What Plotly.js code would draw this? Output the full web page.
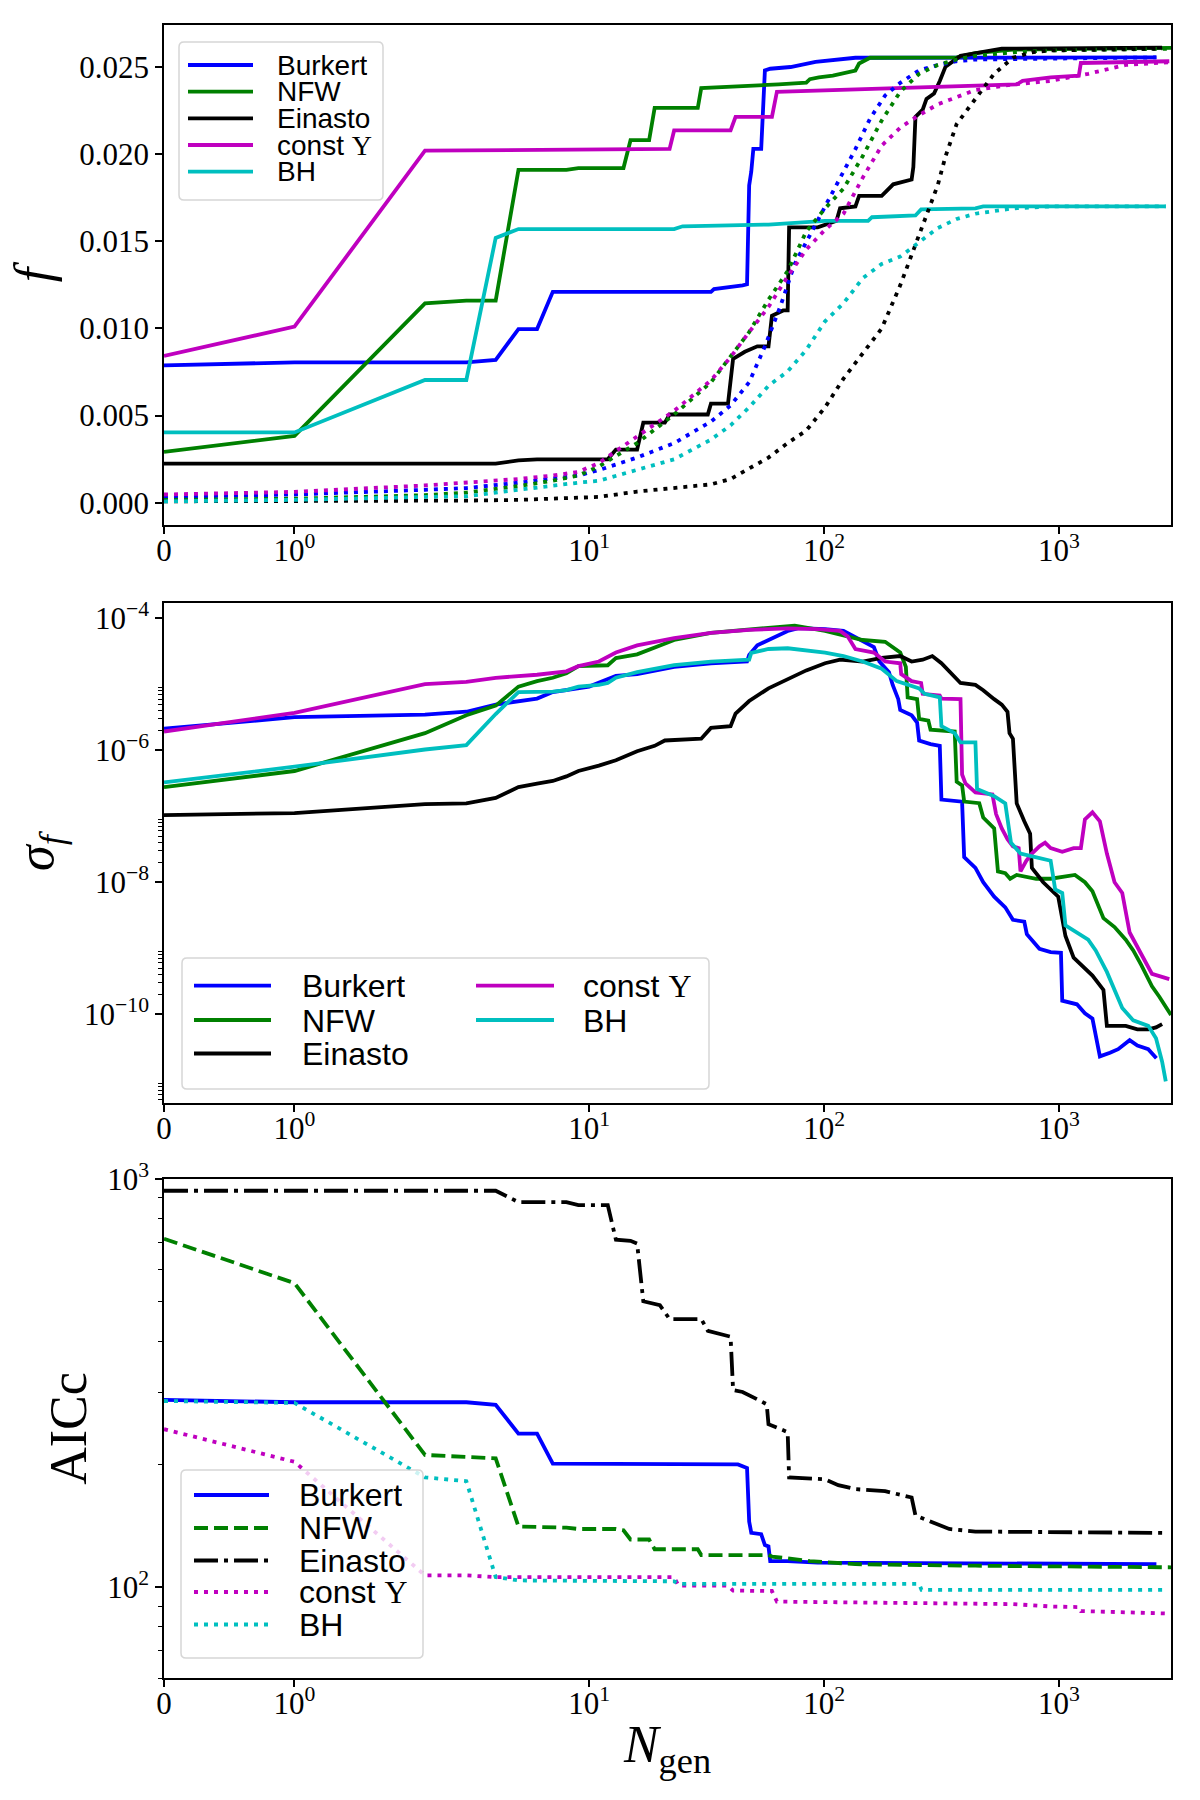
<!DOCTYPE html>
<html>
<head>
<meta charset="utf-8">
<script src="https://cdn.plot.ly/plotly-3.0.1.min.js"></script>
<style>body{margin:0;background:#fff}#chart{width:1200px;height:1800px}</style>
</head>
<body>
<div id="chart"></div>
<script>
// ---------------- DATA ----------------
const modelNames = ['Burkert', 'NFW', 'Einasto', 'const Υ', 'BH'];

// Panel 1: best fitness f (solid)
const gen_f_burkert = [0,1,2,3,4,5,6,7,33,34,45,47,48,49,50,54,56,59,72,84,92,136,2600];
const f_burkert = [0.00788,0.00805,0.00805,0.00805,0.00819,0.00996,0.00996,0.0121,0.0121,0.01226,0.01247,0.01253,0.0182,0.0190,0.0203,0.0203,0.0248,0.0249,0.0250,0.0252,0.0253,0.02553,0.02555];
const gen_f_nfw = [0,1,2,3,4,5,8,9,14,15,18,19,29,30,64,84,87,95,109,136,141,157,367,441,637,3000];
const f_nfw = [0.00292,0.00383,0.01144,0.0116,0.0116,0.0191,0.0191,0.0192,0.0192,0.0208,0.0208,0.02265,0.02265,0.02379,0.0240,0.0241,0.0243,0.0244,0.0245,0.0248,0.0252,0.02553,0.02555,0.0258,0.026,0.0261];
const gen_f_einasto = [0,4,5,6,12,13,16,17,21,22,32,33,39,41,46,52,58,60,67,70,71,94,113,117,136,141,176,197,236,240,245,263,273,294,311,329,381,441,530,571,2750];
const f_einasto = [0.00224,0.00224,0.00243,0.00249,0.00249,0.00305,0.00305,0.00459,0.00459,0.00506,0.00506,0.00568,0.00568,0.00825,0.00866,0.00897,0.00897,0.01072,0.01103,0.01103,0.0158,0.0158,0.01617,0.01689,0.017,0.01761,0.01761,0.01827,0.01854,0.01926,0.02214,0.02255,0.02317,0.02348,0.0242,0.02502,0.02564,0.0258,0.02595,0.02605,0.02611];
const gen_f_const = [0,1,2,22,23,40,42,60,63,117,211,441,661,700,922,1215,1240,2950];
const f_const = [0.00842,0.0101,0.0202,0.0203,0.02136,0.02136,0.02214,0.02214,0.02358,0.02368,0.02379,0.02389,0.0240,0.0242,0.0244,0.0245,0.02523,0.02533];
const gen_f_bh = [0,1,2,3,4,5,23,25,58,101,154,160,245,259,441,476,2850];
const f_bh = [0.00403,0.00403,0.00704,0.00704,0.01519,0.0157,0.0157,0.01586,0.01596,0.01617,0.01617,0.01638,0.01648,0.01683,0.01689,0.017,0.017];

// Panel 1: population f (dotted)
const gen_fm_burkert = [0,1,2,3,5,7,9,11,16,23,33,40,48,56,65,75,87,101,117,136,157,182,211,254,305,367,441,2600];
const fm_burkert = [0.00033,0.00047,0.00074,0.00084,0.00115,0.00136,0.00156,0.00187,0.00259,0.00342,0.00465,0.00558,0.00691,0.00897,0.01123,0.0137,0.01535,0.017,0.01864,0.02029,0.02204,0.02337,0.02409,0.02481,0.02512,0.02533,0.02543,0.02555];
const gen_fm_nfw = [0,1,2,3,5,7,9,11,16,23,33,40,48,58,70,84,101,121,146,176,211,254,305,367,441,637,922,3000];
const fm_nfw = [0.00016,0.00023,0.00043,0.00058,0.00095,0.00126,0.00156,0.00208,0.00342,0.00506,0.00691,0.00835,0.00979,0.01165,0.01329,0.01556,0.01689,0.01802,0.01988,0.02193,0.02358,0.02461,0.02512,0.02543,0.02564,0.02584,0.02595,0.02605];
const gen_fm_einasto = [0,1,2,3,5,7,9,11,16,23,33,40,48,58,70,84,101,121,146,176,211,254,284,305,329,367,441,530,637,767,922,2750];
const fm_einasto = [0.00008,0.00008,0.00012,0.00012,0.00016,0.00023,0.00028,0.00033,0.00064,0.00084,0.00105,0.00136,0.00198,0.00259,0.00342,0.00414,0.00547,0.00712,0.00856,0.01,0.01247,0.01535,0.017,0.01823,0.01988,0.02173,0.02317,0.02461,0.02553,0.02584,0.02595,0.02605];
const gen_fm_const = [0,1,2,3,5,7,9,11,16,23,33,40,48,58,70,84,101,121,146,176,211,254,305,367,441,637,922,1332,1925,2950];
const fm_const = [0.00047,0.00062,0.00099,0.00115,0.00136,0.00156,0.00177,0.00228,0.00383,0.00527,0.00702,0.00835,0.00979,0.01123,0.01298,0.01453,0.01566,0.01658,0.01864,0.02049,0.02152,0.02224,0.02286,0.02327,0.02368,0.0240,0.0242,0.02461,0.02512,0.02527];
const gen_fm_bh = [0,1,2,3,5,7,9,11,16,23,33,40,48,58,70,84,101,121,146,176,211,254,305,367,441,637,922,2850];
const fm_bh = [0.00008,0.00016,0.00033,0.00037,0.00074,0.00099,0.00115,0.00126,0.00187,0.00249,0.00362,0.00444,0.00547,0.00671,0.00753,0.00877,0.01041,0.01144,0.01288,0.0137,0.01412,0.01494,0.01576,0.01628,0.01658,0.01689,0.017,0.017];

// Panel 2: sigma_f
const gen_s_burkert = [0,1,2,3,4,5,6,7,10,13,16,23,33,47,48,52,70,78,101,121,146,163,172,189,196,207,211,236,249,254,284,311,316,387,395,441,476,530,591,637,712,730,826,922,1020,1033,1193,1290,1389,1494,1650,1787,2000,2158,2400,2600];
const s_burkert = [2.13e-6,3.18e-6,3.48e-6,3.85e-6,4.94e-6,5.6e-6,6.1e-6,7.66e-6,9.25e-6,1.35e-5,1.43e-5,1.84e-5,2.09e-5,2.22e-5,2.8e-5,3.91e-5,6.46e-5,7.13e-5,6.9e-5,6.5e-5,4.43e-5,3.67e-5,2.22e-5,1.53e-5,9.8e-6,5.97e-6,4.09e-6,3.4e-6,2.64e-6,1.41e-6,1.24e-6,1.17e-6,1.79e-7,1.67e-7,2.4e-8,1.65e-8,1e-8,6.05e-9,4.16e-9,2.69e-9,2.52e-9,1.63e-9,9.8e-10,8.7e-10,8.5e-10,1.6e-10,1.41e-10,1.03e-10,8.55e-11,2.29e-11,2.6e-11,2.95e-11,4.03e-11,3.34e-11,2.95e-11,2.15e-11];
const gen_s_nfw = [0,1,2,3,4,5,6,7,8,9,12,13,16,23,33,48,58,75,101,126,146,182,211,223,227,249,254,278,284,360,367,387,395,458,476,530,550,591,620,661,800,922,1066,1170,1290,1389,1547,1725,1925,2072,2240,2490,2680,3000];
const s_nfw = [2.77e-7,4.86e-7,1.82e-6,3.4e-6,4.76e-6,9.25e-6,1.12e-5,1.26e-5,1.47e-5,1.89e-5,1.95e-5,2.5e-5,2.86e-5,4.71e-5,6.05e-5,6.7e-5,7.05e-5,7.78e-5,6.46e-5,5.35e-5,4.71e-5,4.43e-5,3.04e-5,1.84e-5,6.35e-6,5.97e-6,2.99e-6,2.82e-6,2.06e-6,1.93e-6,3.34e-7,2.95e-7,1.67e-7,1.58e-7,9.55e-8,6.55e-8,1.46e-8,1.37e-8,1.13e-8,1.29e-8,1.13e-8,1.13e-8,1.21e-8,1.29e-8,1e-8,7.31e-9,2.86e-9,2.09e-9,1.35e-9,9.25e-10,5.6e-10,2.64e-10,1.82e-10,9.7e-11];
const gen_s_einasto = [0,1,2,3,4,5,6,7,8,9,11,13,16,19,21,30,33,40,42,48,58,70,84,101,117,146,176,211,236,263,289,316,354,381,441,476,530,571,604,616,637,661,712,754,767,857,993,1066,1155,1240,1389,1547,1600,1925,2158,2400,2590,2750];
const s_einasto = [1.04e-7,1.12e-7,1.53e-7,1.57e-7,1.9e-7,2.77e-7,3.14e-7,3.43e-7,4.03e-7,4.86e-7,5.87e-7,7.08e-7,9.68e-7,1.17e-6,1.41e-6,1.5e-6,2.19e-6,2.33e-6,3.61e-6,5.6e-6,8.69e-6,1.19e-5,1.63e-5,2.09e-5,2.37e-5,2.22e-5,2.52e-5,2.69e-5,2.22e-5,2.37e-5,2.69e-5,2.09e-5,1.35e-5,1.05e-5,9.84e-6,8.17e-6,5.97e-6,4.94e-6,3.85e-6,1.82e-6,1.5e-6,1.57e-7,8.41e-8,5.43e-8,1.65e-8,1e-8,6.05e-9,1.53e-9,7.19e-10,5.6e-10,3.85e-10,2.33e-10,6.65e-11,6.65e-11,5.87e-11,5.87e-11,6.3e-11,7.08e-11];
const gen_s_const = [0,1,2,3,4,6,8,9,11,13,16,23,33,48,70,94,117,126,136,163,182,211,213,236,259,263,311,316,381,387,400,441,521,540,571,604,637,674,686,726,767,826,873,922,1033,1155,1240,1290,1389,1494,1600,1725,1860,2000,2240,2490,2950];
const s_const = [1.93e-6,3.71e-6,1.01e-5,1.09e-5,1.26e-5,1.4e-5,1.58e-5,1.89e-5,2.22e-5,3.04e-5,3.91e-5,5.01e-5,6.05e-5,6.7e-5,7.05e-5,6.87e-5,6.46e-5,5.35e-5,3.44e-5,3.04e-5,2.22e-5,2.09e-5,1.43e-5,1.12e-5,1.05e-5,7.19e-6,6.76e-6,6.1e-6,5.96e-6,4.3e-7,3.14e-7,2.3e-7,2.15e-7,1.08e-7,6.55e-8,4.5e-8,3.5e-8,3.29e-8,1.46e-8,2.12e-8,2.72e-8,3.5e-8,3.97e-8,3.29e-8,2.9e-8,3.29e-8,3.29e-8,8.95e-8,1.15e-7,8.41e-8,2.72e-8,1e-8,6.87e-9,1.73e-9,8.17e-10,4.09e-10,3.4e-10];
const gen_s_bh = [0,1,2,3,4,5,7,8,9,11,12,13,16,23,33,48,49,58,70,84,101,121,146,176,204,254,268,311,316,360,381,441,448,530,591,625,686,794,922,964,1033,1066,1193,1332,1434,1600,1860,2072,2400,2590,2750,2850];
const s_bh = [3.26e-7,5.65e-7,1.03e-6,1.2e-6,3.55e-6,7.66e-6,7.76e-6,8.17e-6,9.25e-6,9.84e-6,1.05e-5,1.26e-5,1.53e-5,1.96e-5,2.22e-5,2.37e-5,3.0e-5,3.44e-5,3.53e-5,3.31e-5,3.04e-5,2.69e-5,2.22e-5,1.73e-5,1.12e-5,8.69e-6,7.19e-6,6.35e-6,2.33e-6,1.82e-6,1.32e-6,1.32e-6,2.6e-7,2.02e-7,1.57e-7,3.97e-8,2.72e-8,2.4e-8,2.12e-8,7.78e-9,6.87e-9,2.22e-9,1.73e-9,1.35e-9,9.25e-10,4.37e-10,1.24e-10,8.04e-11,6.65e-11,4.3e-11,1.9e-11,9.55e-12];

// Panel 3: AICc
const gen_a_burkert = [0,1,3,4,5,6,7,33,43,47,48,49,54,56,58,59,70,94,2600];
const a_burkert = [288,284,284,280,238,238,201,201,200,196,145,136,135,127,126,116,116,115,114];
const gen_a_nfw = [0,1,2,3,4,5,8,9,13,14,15,18,19,29,30,58,60,87,136,441,3000];
const a_nfw = [714,556,211,209,207,141,140,139,139,138,131,131,124,124,120,120,119,116,114,113,112];
const gen_a_einasto = [0,4,5,8,9,12,13,15,16,17,20,22,30,32,40,41,45,55,57,58,70,71,101,115,136,182,236,245,284,341,441,2750];
const a_einasto = [936,936,878,878,863,863,710,706,695,502,491,454,454,425,411,304,301,285,281,251,240,186,184,178,174,172,166,150,145,139,137,136];
const gen_a_const = [0,1,2,3,4,23,24,39,41,60,63,637,922,1215,1240,2950];
const a_const = [244,203,107,107,106,106,101,101,98.2,98,92.3,91,89.8,89.5,87.5,86.3];
const gen_a_bh = [0,1,2,3,4,5,23,24,254,260,2850];
const a_bh = [286,283,186,182,106,104,103.5,102,102,98.6,98.6];

// tick labels
const xTickGen = [0, 1, 10, 100, 1000];
const xTickText = ['0', '10<sup>0</sup>', '10<sup>1</sup>', '10<sup>2</sup>', '10<sup>3</sup>'];
const fTicks = [0, 0.005, 0.010, 0.015, 0.020, 0.025];
const sTicks = [1e-4, 1e-6, 1e-8, 1e-10];
const sTickText = ['10<sup>−4</sup>', '10<sup>−6</sup>', '10<sup>−8</sup>', '10<sup>−10</sup>'];
const aTicks = [100, 1000];
const aTickText = ['10<sup>2</sup>', '10<sup>3</sup>'];
const X_MAX = 3000;

// ---------------- STYLE ----------------
const colors = ['#0000ff', '#008000', '#000000', '#bf00bf', '#00bfbf'];
const LW = 3.8;
const DOT = '4px,6px';
const DASH = '14px,6px';
const DASHDOT = '24px,6px,4px,6px';
const aicDash = ['solid', DASH, DASHDOT, DOT, DOT];
const SERIF = 'Liberation Serif, Times New Roman, serif';
const SANS = 'Liberation Sans, Arial, sans-serif';

// symmetric-log transform (linthresh = 2, linscale = 1, base 10) as in matplotlib
const LINTHRESH = 2, LINSCALE_ADJ = 1 / (1 - 1 / 10);
function symlog(v) {
  return v <= LINTHRESH ? v * LINSCALE_ADJ : LINTHRESH * (LINSCALE_ADJ + Math.log10(v / LINTHRESH));
}

// ---------------- TRACES ----------------
const fGen = [gen_f_burkert, gen_f_nfw, gen_f_einasto, gen_f_const, gen_f_bh];
const fVal = [f_burkert, f_nfw, f_einasto, f_const, f_bh];
const fmGen = [gen_fm_burkert, gen_fm_nfw, gen_fm_einasto, gen_fm_const, gen_fm_bh];
const fmVal = [fm_burkert, fm_nfw, fm_einasto, fm_const, fm_bh];
const sGen = [gen_s_burkert, gen_s_nfw, gen_s_einasto, gen_s_const, gen_s_bh];
const sVal = [s_burkert, s_nfw, s_einasto, s_const, s_bh];
const aGen = [gen_a_burkert, gen_a_nfw, gen_a_einasto, gen_a_const, gen_a_bh];
const aVal = [a_burkert, a_nfw, a_einasto, a_const, a_bh];

const traces = [];
function addTrace(gen, val, i, dash, xa, ya, suffix) {
  traces.push({
    type: 'scatter', mode: 'lines',
    x: gen.map(symlog), y: val,
    customdata: gen,
    name: modelNames[i] + suffix,
    xaxis: xa, yaxis: ya, showlegend: false,
    line: {color: colors[i], width: LW, dash: dash},
    hovertemplate: 'N=%{customdata}<br>%{y}<extra>' + modelNames[i] + '</extra>'
  });
}
for (let i = 0; i < 5; i++) addTrace(fGen[i], fVal[i], i, 'solid', 'x', 'y', '');
for (let i = 0; i < 5; i++) addTrace(fmGen[i], fmVal[i], i, DOT, 'x', 'y', ' (population)');
for (let i = 0; i < 5; i++) addTrace(sGen[i], sVal[i], i, 'solid', 'x2', 'y2', '');
for (let i = 0; i < 5; i++) addTrace(aGen[i], aVal[i], i, aicDash[i], 'x3', 'y3', '');

// ---------------- LAYOUT ----------------
const W = 1200, H = 1800;
const M = {l: 164, r: 29, t: 25, b: 122};
const PW = W - M.l - M.r, PH = H - M.t - M.b;
const px = p => (p - M.l) / PW;
const py = p => (H - M.b - p) / PH;

const tickFont = {family: SERIF, size: 31, color: 'black'};
const titleFont = {family: SERIF, size: 52, color: 'black'};
function xAxis(anchor, withTitle) {
  const ax = {
    anchor: anchor, domain: [0, 1], range: [0, symlog(X_MAX)],
    tickmode: 'array', tickvals: xTickGen.map(symlog), ticktext: xTickText,
    showline: true, mirror: true, linecolor: 'black', linewidth: 1.6,
    ticks: 'outside', ticklen: 7, tickwidth: 1.6, tickcolor: 'black',
    ticklabelstandoff: -10,
    showgrid: false, zeroline: false, tickfont: tickFont, automargin: false
  };
  if (withTitle) ax.title = {text: '<i>N</i><sub>gen</sub>', font: titleFont, standoff: 6};
  return ax;
}
function yAxisBase(anchor, top, bottom) {
  return {
    anchor: anchor, domain: [py(bottom), py(top)],
    showline: true, mirror: true, linecolor: 'black', linewidth: 1.6,
    ticks: 'outside', ticklen: 7, tickwidth: 1.6, tickcolor: 'black',
    showgrid: false, zeroline: false, tickfont: tickFont, automargin: false
  };
}
const minorS = [];
[-12, -10, -8, -6].forEach(d => { for (let k = 2; k <= 9; k++) minorS.push(k * Math.pow(10, d)); });
const minorA = [60, 70, 80, 90, 200, 300, 400, 500, 600, 700, 800, 900];

const yaxis1 = Object.assign(yAxisBase('x', 25, 525), {
  range: [-0.00128, 0.02741], tickmode: 'array', tickvals: fTicks, tickformat: '.3f',
  title: {text: '<i>f</i>', font: titleFont, standoff: 11}
});
const yaxis2 = Object.assign(yAxisBase('x2', 603, 1103), {
  type: 'log', range: [-11.347, -3.766], tickmode: 'array', tickvals: sTicks, ticktext: sTickText,
  minor: {tickmode: 'array', tickvals: minorS, ticks: 'outside', ticklen: 4, tickwidth: 1.2, tickcolor: 'black'},
  title: {text: '<i>σ</i><sub><i>f</i></sub>', font: titleFont, standoff: 14}
});
const yaxis3 = Object.assign(yAxisBase('x3', 1179, 1678), {
  type: 'log', range: [Math.log10(60), 3], tickmode: 'array', tickvals: aTicks, ticktext: aTickText,
  minor: {tickmode: 'array', tickvals: minorA, ticks: 'outside', ticklen: 4, tickwidth: 1.2, tickcolor: 'black'},
  title: {text: 'AICc', font: titleFont, standoff: 4}
});

// ---------------- LEGENDS (drawn as matplotlib-style boxes) ----------------
const shapes = [], annotations = [];
function roundRect(x0, y0, x1, y1, r) {
  const X = v => px(v).toFixed(6), Y = v => py(v).toFixed(6);
  return 'M' + X(x0 + r) + ',' + Y(y0) + ' L' + X(x1 - r) + ',' + Y(y0) +
    ' Q' + X(x1) + ',' + Y(y0) + ' ' + X(x1) + ',' + Y(y0 + r) +
    ' L' + X(x1) + ',' + Y(y1 - r) + ' Q' + X(x1) + ',' + Y(y1) + ' ' + X(x1 - r) + ',' + Y(y1) +
    ' L' + X(x0 + r) + ',' + Y(y1) + ' Q' + X(x0) + ',' + Y(y1) + ' ' + X(x0) + ',' + Y(y1 - r) +
    ' L' + X(x0) + ',' + Y(y0 + r) + ' Q' + X(x0) + ',' + Y(y0) + ' ' + X(x0 + r) + ',' + Y(y0) + ' Z';
}
function legendLabel(i) {
  return i === 3 ? 'const <span style="font-family:Liberation Serif">Υ</span>' : modelNames[i];
}
function drawLegend(box, entries, fontSize, rowH) {
  shapes.push({type: 'path', xref: 'paper', yref: 'paper', layer: 'above',
    path: roundRect(box[0], box[1], box[2], box[3], 5),
    fillcolor: 'rgba(255,255,255,0.8)', line: {color: 'rgba(204,204,204,0.8)', width: 1.5}});
  entries.forEach(e => {
    shapes.push({type: 'line', xref: 'paper', yref: 'paper', layer: 'above',
      x0: px(e.lx0), x1: px(e.lx1), y0: py(e.y), y1: py(e.y),
      line: {color: colors[e.i], width: LW, dash: e.dash}});
    annotations.push({xref: 'paper', yref: 'paper', x: px(e.tx), y: py(e.y),
      xanchor: 'left', yanchor: 'middle', showarrow: false, text: legendLabel(e.i),
      height: rowH, borderpad: 0,
      font: {family: SANS, size: fontSize, color: 'black'}});
  });
}
// top legend
drawLegend([179, 42, 383, 200],
  [65, 91.7, 118.3, 145, 171.7].map((y, i) => ({i: i, y: y, lx0: 188, lx1: 253, tx: 276, dash: 'solid'})), 28, 25);
// middle legend (2 columns)
drawLegend([182, 958, 709, 1089], [
  {i: 0, y: 985.7, lx0: 194, lx1: 271, tx: 301, dash: 'solid'},
  {i: 1, y: 1020, lx0: 194, lx1: 271, tx: 301, dash: 'solid'},
  {i: 2, y: 1053.5, lx0: 194, lx1: 271, tx: 301, dash: 'solid'},
  {i: 3, y: 985.7, lx0: 476, lx1: 554, tx: 582, dash: 'solid'},
  {i: 4, y: 1020, lx0: 476, lx1: 554, tx: 582, dash: 'solid'}
], 32, 31);
// bottom legend
drawLegend([181, 1470, 423, 1658],
  [1495, 1528, 1560.5, 1592, 1624.5].map((y, i) => ({i: i, y: y, lx0: 194, lx1: 269, tx: 298, dash: aicDash[i]})), 32, 30);

const layout = {
  width: W, height: H, margin: M,
  paper_bgcolor: 'white', plot_bgcolor: 'white',
  showlegend: false,
  font: {family: SERIF, color: 'black'},
  xaxis: xAxis('y', false), xaxis2: xAxis('y2', false), xaxis3: xAxis('y3', true),
  yaxis: yaxis1, yaxis2: yaxis2, yaxis3: yaxis3,
  shapes: shapes, annotations: annotations
};

Plotly.newPlot('chart', traces, layout, {displayModeBar: false, responsive: false});
</script>
</body>
</html>
